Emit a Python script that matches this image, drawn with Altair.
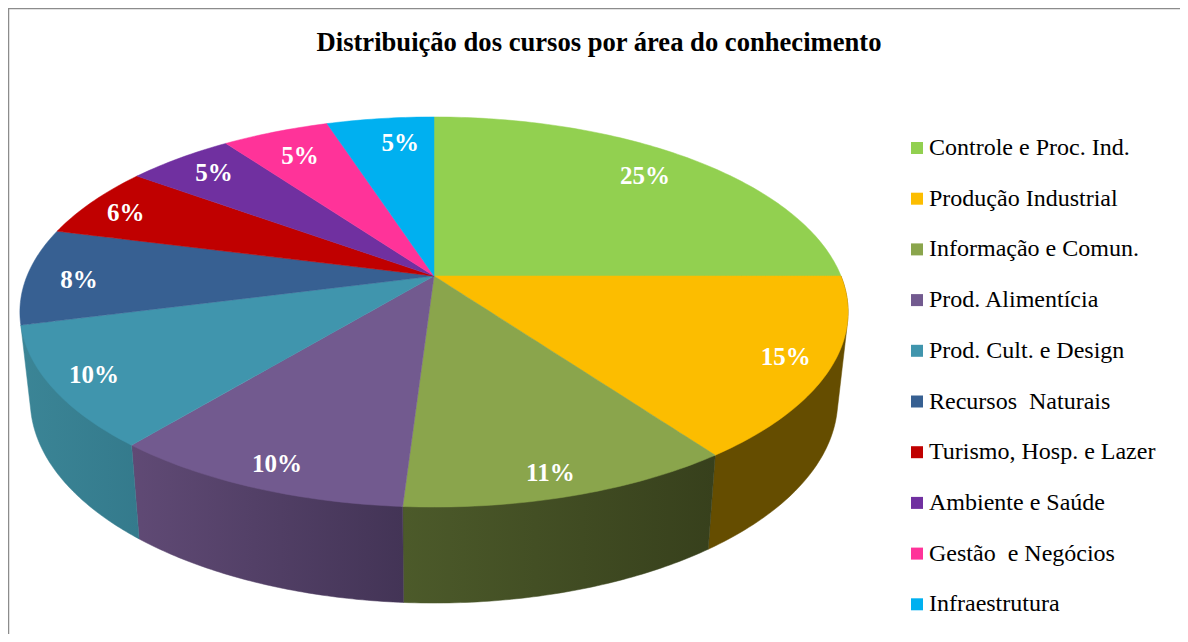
import numpy as np
import pandas as pd
import altair as alt

# ---- chart values
areas = ["Controle e Proc. Ind.", "Produção Industrial", "Informação e Comun.",
         "Prod. Alimentícia", "Prod. Cult. e Design", "Recursos\u00a0\u00a0Naturais",
         "Turismo, Hosp. e Lazer", "Ambiente e Saúde", "Gestão\u00a0\u00a0e Negócios", "Infraestrutura"]
percent = [25, 15, 11, 10, 10, 8, 6, 5, 5, 5]
top_colors = ["#92D050", "#FCBD00", "#8AA54C", "#725A8F", "#4095AD",
              "#376092", "#C00000", "#7030A0", "#FF3399", "#00B0F0"]
# wall shading (left colour, right colour) for the slices whose side is visible
wall_left = {1: "#654D00", 2: "#4C5A2A", 3: "#604A75", 4: "#3B8596"}
wall_right = {1: "#654D00", 2: "#37401C", 3: "#433456", 4: "#347A8C"}
label_radius = [0.823, 0.894, 0.908, 0.904, 0.90, 0.869, 0.882, 0.855, 0.813, 0.818]
label_angle = [44.3, 116.4, 164.7, 201.1, 237.8, 268.6, 293.8, 315.3, 332.7, 353.3]
title_text = "Distribuição dos cursos por área do conhecimento"

# ---- perspective view of the disc
CX, CY, A, B, K = 434.0, 276.0, 407.0, 188.4, 0.1846
X0, X1, Y0, Y1 = 8, 1180, 8, 634


def disc(theta, r=1.0):
    u, v = r * np.sin(theta), r * np.cos(theta)
    w = 1 + K * v
    return CX + A * u / w, CY - B * v / w


def base(theta):
    x, y = disc(theta)
    return CX + (x - CX) * 0.975, y + 86 - 10 * np.cos(theta)


def hull(points):
    pts = sorted(set((round(float(a), 3), round(float(b), 3)) for a, b in points))

    def half(seq):
        out = []
        for p in seq:
            while len(out) > 1 and ((out[-1][0] - out[-2][0]) * (p[1] - out[-2][1])
                                    - (out[-1][1] - out[-2][1]) * (p[0] - out[-2][0])) <= 0:
                out.pop()
            out.append(p)
        return out[:-1]

    return half(pts) + half(pts[::-1])


def envelope(points):
    h = hull(points)
    rows = []
    for x in sorted(set(p[0] for p in h)):
        ys = []
        for (xa, ya), (xb, yb) in zip(h, h[1:] + h[:1]):
            if min(xa, xb) - 1e-9 <= x <= max(xa, xb) + 1e-9:
                if xa == xb:
                    ys += [ya, yb]
                else:
                    ys.append(ya + (yb - ya) * (x - xa) / (xb - xa))
        rows.append({"x": x, "y": min(ys), "y2": max(ys)})
    return rows


edges = np.cumsum([0] + percent) / 100 * 2 * np.pi
x_enc = alt.X("x:Q", axis=None, scale=alt.Scale(domain=[X0, X1], nice=False, zero=False))
y_enc = alt.Y("y:Q", axis=None, scale=alt.Scale(domain=[Y1, Y0], nice=False, zero=False))
y2_enc = alt.Y2("y2:Q")

layers = []

# side walls
for i in wall_left:
    th = np.linspace(edges[i], edges[i + 1], 60)
    pts = [disc(t) for t in th] + [base(t) for t in th]
    fill = alt.Gradient(gradient="linear", x1=0, x2=1, y1=0, y2=0,
                        stops=[alt.GradientStop(color=wall_left[i], offset=0),
                               alt.GradientStop(color=wall_right[i], offset=1)])
    layers.append(alt.Chart(pd.DataFrame(envelope(pts)))
                  .mark_area(orient="vertical", fill=fill, stroke=fill, strokeWidth=0.5)
                  .encode(x=x_enc, y=y_enc, y2=y2_enc))

# top face
rows = []
for i, name in enumerate(areas):
    th = np.linspace(edges[i], edges[i + 1], max(8, percent[i] * 4))
    for r in envelope([(CX, CY)] + [disc(t) for t in th]):
        rows.append({**r, "area": name})
legend = alt.Legend(title=None, orient="none", legendX=897, legendY=128, symbolType="square",
                    symbolSize=144, symbolStrokeWidth=0, labelFont="Liberation Serif",
                    labelFontSize=24, labelColor="#000000", labelOffset=0, rowPadding=26.7,
                    padding=0, labelLimit=300)
layers.append(alt.Chart(pd.DataFrame(rows)).mark_area(orient="vertical", strokeWidth=0.5)
              .encode(x=x_enc, y=y_enc, y2=y2_enc,
                      color=alt.Color("area:N", sort=areas, legend=legend,
                                      scale=alt.Scale(domain=areas, range=top_colors)),
                      stroke=alt.Color("area:N", sort=areas, legend=None,
                                       scale=alt.Scale(domain=areas, range=top_colors))))

# percentage labels
lx, ly = disc(np.radians(label_angle), np.array(label_radius))
labels = pd.DataFrame({"x": lx, "y": ly, "t": [f"{p}%" for p in percent]})
layers.append(alt.Chart(labels).mark_text(font="Liberation Serif", fontWeight="bold", fontSize=25,
                                          color="white", baseline="middle", align="center")
              .encode(x=x_enc, y=y_enc, text="t:N"))

# title
layers.append(alt.Chart(pd.DataFrame({"t": [title_text]})).mark_text(
    font="Liberation Serif", fontWeight="bold", fontSize=26.6, color="black",
    baseline="middle", align="center").encode(x=alt.value(591), y=alt.value(35), text="t:N"))

# chart-area frame
frame = "#8C8C8C"
layers.append(alt.Chart(pd.DataFrame({"a": [0]})).mark_rule(color=frame, strokeWidth=1.5).encode(
    x=alt.value(0.5), y=alt.value(0), y2=alt.value(Y1 - Y0)))
layers.append(alt.Chart(pd.DataFrame({"a": [0]})).mark_rule(color=frame, strokeWidth=1.5).encode(
    x=alt.value(0), x2=alt.value(X1 - X0), y=alt.value(0.5)))

chart = alt.layer(*layers).properties(
    width=X1 - X0, height=Y1 - Y0, padding=0,
    autosize=alt.AutoSizeParams(type="none"),
).configure_view(stroke=None)

chart.save("out.html", embed_options={"renderer": "svg", "actions": False})
